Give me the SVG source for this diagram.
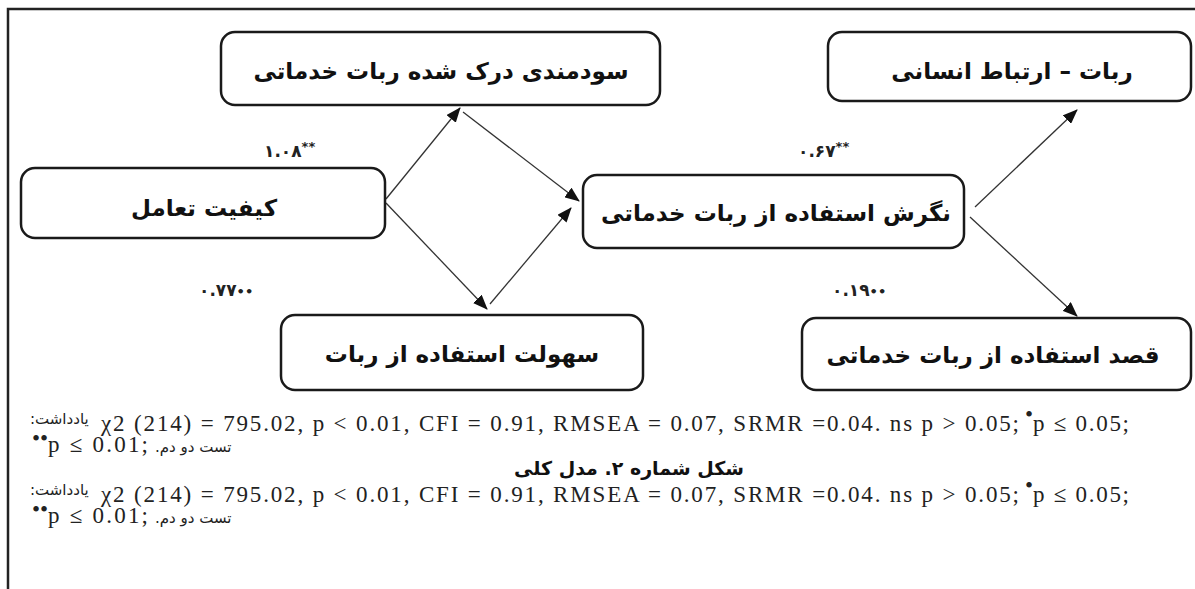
<svg xmlns="http://www.w3.org/2000/svg" width="1195" height="589" viewBox="0 0 1195 589">
<style>
.box{fill:#fff;stroke:#1a1a1a;stroke-width:2.5}
.lbl{font-family:"DejaVu Sans",sans-serif;font-weight:bold;font-size:23px;fill:#111;text-anchor:middle}
.coef{font-family:"DejaVu Sans",sans-serif;font-weight:bold;font-size:17px;fill:#222}
.conn{stroke:#333;stroke-width:1.3;fill:none;marker-end:url(#ah)}
.lat{font-family:"Liberation Serif",serif;font-size:23px;fill:#222}
.fa{font-family:"DejaVu Sans",sans-serif;font-size:15px;fill:#222}
.title{font-family:"DejaVu Sans",sans-serif;font-weight:bold;font-size:19px;fill:#111;text-anchor:middle}
</style>
<defs>
<marker id="ah" markerUnits="userSpaceOnUse" markerWidth="16" markerHeight="12" refX="14" refY="6" orient="auto">
<path d="M0,0 L15,6 L0,12 Z" fill="#111"/>
</marker>
</defs>
<rect width="1195" height="589" fill="#fff"/>
<path d="M8,589 V9 H1195" fill="none" stroke="#222" stroke-width="2.5"/>

<g id="connectors">
<line class="conn" x1="386" y1="199" x2="460" y2="108"/>
<line class="conn" x1="386" y1="203" x2="487" y2="309"/>
<line class="conn" x1="463" y1="112" x2="579" y2="201"/>
<line class="conn" x1="490" y1="304" x2="571" y2="208"/>
<line class="conn" x1="975" y1="207" x2="1077" y2="110"/>
<line class="conn" x1="970" y1="217" x2="1077" y2="316"/>
</g>

<g id="n_usefulness">
<rect class="box" x="221" y="32" width="439" height="73" rx="14"/>
<text class="lbl" x="441" y="79">سودمندی درک شده ربات خدماتی</text>
</g>
<g id="n_hri">
<rect class="box" x="828" y="32" width="363" height="69" rx="14"/>
<text class="lbl" x="1012" y="79">ربات – ارتباط انسانی</text>
</g>
<g id="n_quality">
<rect class="box" x="21" y="168" width="364" height="70" rx="14"/>
<text class="lbl" x="204" y="216">کیفیت تعامل</text>
</g>
<g id="n_attitude">
<rect class="box" x="583" y="175" width="381" height="73" rx="14"/>
<text class="lbl" x="776" y="221" font-size="22">نگرش استفاده از ربات خدماتی</text>
</g>
<g id="n_ease">
<rect class="box" x="281" y="315" width="362" height="75" rx="14"/>
<text class="lbl" x="462" y="362">سهولت استفاده از ربات</text>
</g>
<g id="n_intention">
<rect class="box" x="802" y="318" width="389" height="72" rx="14"/>
<text class="lbl" x="993" y="363">قصد استفاده از ربات خدماتی</text>
</g>

<g id="coefficients">
<text class="coef" x="264" y="157">۱.۰۸<tspan font-size="13" dy="-6">**</tspan></text>
<text class="coef" x="199" y="296">۰.۷۷<tspan font-size="13">••</tspan></text>
<text class="coef" x="798" y="157">۰.۶۷<tspan font-size="13" dy="-6">**</tspan></text>
<text class="coef" x="832" y="296">۰.۱۹<tspan font-size="13">••</tspan></text>
</g>

<g id="notes">
<text class="fa" x="30" y="424">&#x200E;:یادداشت</text>
<text class="lat" x="101" y="431" textLength="918" lengthAdjust="spacing">χ2 (214) = 795.02, p &lt; 0.01, CFI = 0.91, RMSEA = 0.07, SRMR =0.04. ns p &gt; 0.05;</text>
<text class="lat" x="1025" y="422" font-size="11">•</text>
<text class="lat" x="1033" y="431" textLength="96" lengthAdjust="spacing">p ≤ 0.05;</text>
<text class="lat" x="32" y="446" font-size="11">••</text>
<text class="lat" x="48" y="452" textLength="100" lengthAdjust="spacing">p ≤ 0.01;</text>
<text class="fa" x="155" y="452">.تست دو دم</text>

<text class="title" x="629" y="475" direction="rtl">شکل شماره ۲. مدل کلی</text>

<text class="fa" x="30" y="495">&#x200E;:یادداشت</text>
<text class="lat" x="101" y="502" textLength="918" lengthAdjust="spacing">χ2 (214) = 795.02, p &lt; 0.01, CFI = 0.91, RMSEA = 0.07, SRMR =0.04. ns p &gt; 0.05;</text>
<text class="lat" x="1025" y="493" font-size="11">•</text>
<text class="lat" x="1033" y="502" textLength="96" lengthAdjust="spacing">p ≤ 0.05;</text>
<text class="lat" x="32" y="517" font-size="11">••</text>
<text class="lat" x="48" y="523" textLength="100" lengthAdjust="spacing">p ≤ 0.01;</text>
<text class="fa" x="155" y="523">.تست دو دم</text>
</g>
</svg>
